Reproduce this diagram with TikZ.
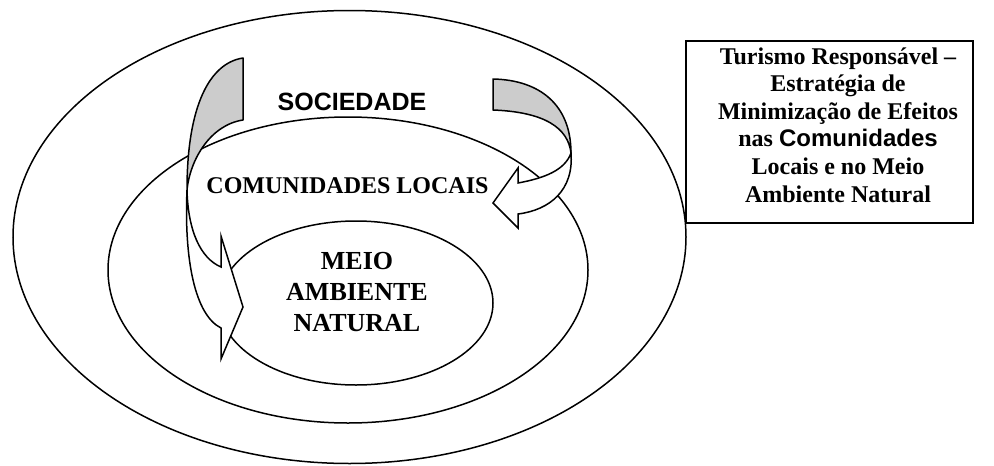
\documentclass[tikz,border=0pt]{standalone}
\usepackage{fontspec}
\setmainfont{Liberation Serif}
\newfontfamily\arialfont{Liberation Sans}
\usetikzlibrary{shapes.geometric}
\begin{document}
\begin{tikzpicture}[x=1pt,y=-1pt,
  ring/.style={draw, ellipse, line width=1.5pt, inner sep=0pt, outer sep=0pt},
  arrowback/.style={draw, fill=black!20, line width=1.5pt, line join=round},
  arrowfront/.style={draw, fill=white, line width=1.5pt, line join=miter},
  serifbig/.style={font=\bfseries\fontsize{24}{27.6}\selectfont, align=center, inner sep=0pt},
  serifin/.style={font=\bfseries\fontsize{26}{31}\selectfont, align=center, inner sep=0pt},
  sanslbl/.style={font=\arialfont\bfseries\fontsize{25}{30}\selectfont, inner sep=0pt}
]
\useasboundingbox (0,0) rectangle (994,466);
% rings
\node[ring, minimum width=673pt, minimum height=453pt] (outer) at (349.5,237) {};
\node[ring, minimum width=480pt, minimum height=306pt] (middle) at (348,270) {};
\node[ring, minimum width=274pt, minimum height=164pt] (inner) at (356,303) {};
% box
\node[draw, line width=1.5pt, minimum width=287pt, minimum height=182pt, inner sep=0pt, anchor=north west] (box) at (685,40) {};
\node[serifbig] (boxtext) at (838,125) {Turismo Responsável –\\Estratégia de\\Minimização de Efeitos\\nas {\arialfont Comunidades}\\Locais e no Meio\\Ambiente Natural};
% labels
\node[sanslbl, anchor=base] (soc) at (352,110) {SOCIEDADE};
\node[serifbig, anchor=base] (com) at (347.5,193) {COMUNIDADES LOCAIS};
\node[serifin] (meio) at (357,292.4) {MEIO\\AMBIENTE\\NATURAL};
% left curved arrow
\path[arrowback] (243,58) .. controls (210,63) and (187,105) .. (187,190)
  .. controls (190,160) and (210,125) .. (243,120) -- cycle;
\path[arrowfront] (187,190) .. controls (184,260) and (195,315) .. (221,328)
  -- (221,359) -- (243,307) -- (221,236) -- (221,267)
  .. controls (200,258) and (188,230) .. (187,190) -- cycle;
% right curved arrow
\path[arrowback] (493,79) .. controls (540,80) and (571,105) .. (571,153)
  .. controls (568,128) and (545,112) .. (493,110) -- cycle;
\path[arrowfront] (571,153) .. controls (574,190) and (550,210) .. (518,214)
  -- (518,228) -- (493,203) -- (518,168) -- (518,183)
  .. controls (545,178) and (565,170) .. (571,153) -- cycle;
\end{tikzpicture}
\end{document}
